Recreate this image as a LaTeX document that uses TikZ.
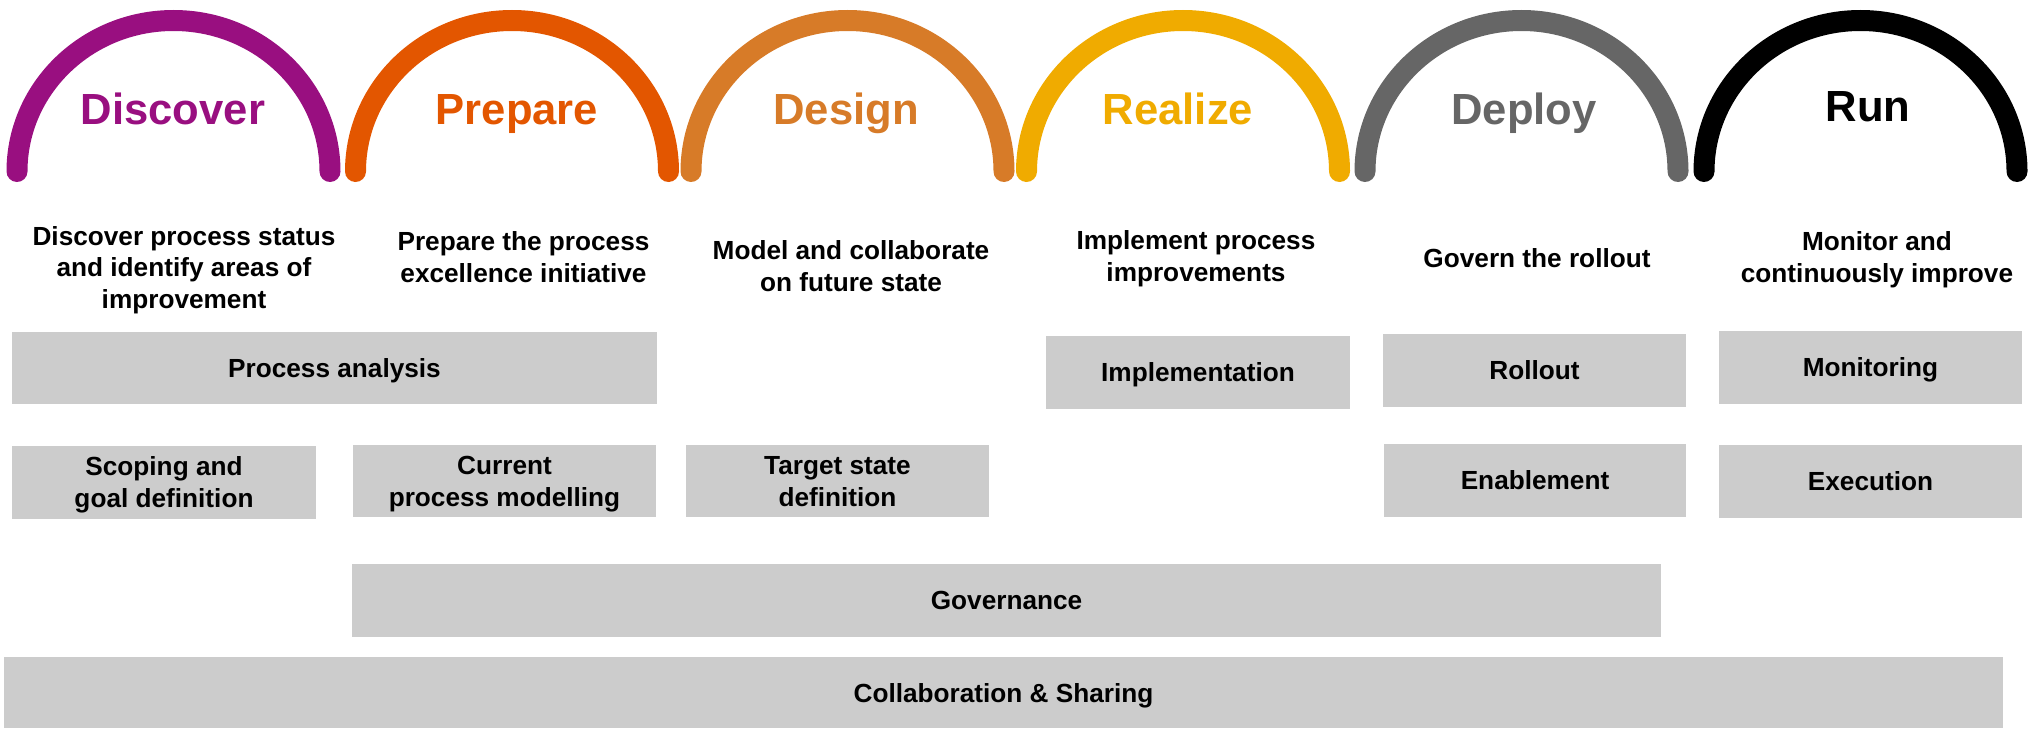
\documentclass[tikz,border=0pt]{standalone}
\usepackage{fontspec}
\setmainfont{Liberation Sans}
\definecolor{discoverc}{RGB}{153,15,128}
\definecolor{preparec}{RGB}{227,86,0}
\definecolor{designc}{RGB}{215,123,40}
\definecolor{realizec}{RGB}{240,171,0}
\definecolor{deployc}{RGB}{102,102,102}
\definecolor{runc}{RGB}{0,0,0}
\definecolor{boxgray}{RGB}{204,204,204}
\newcommand\phasearc[2]{\draw[arcline, #2] ({#1-156.5},171.5) arc[start angle=180, end angle=0, x radius=78.25pt, y radius=75.5pt];}
\newcommand\gbox[6]{\node[gbox, minimum width={(#4-#2)*0.5pt}, minimum height={(#5-#3)*0.5pt}] (#1) at ({(#2+#4)/2},{(#3+#5)/2}) {#6};}
\begin{document}
\begin{tikzpicture}[x=0.5pt,y=-0.5pt,
  arcline/.style={line width=10.5pt, line cap=round},
  title/.style={font=\fontsize{21.8}{26}\selectfont\bfseries, anchor=base, inner sep=0pt},
  desc/.style={font=\fontsize{13.1}{15.6}\selectfont\bfseries, align=center, anchor=base, inner sep=0pt},
  gbox/.style={fill=boxgray, draw=none, inner sep=0pt, outer sep=0pt, align=center, text depth=0pt, font=\fontsize{13.1}{16}\selectfont\bfseries}]
\useasboundingbox (0,0) rectangle (2028,728);
% arcs
\phasearc{173.5}{discoverc}
\phasearc{512}{preparec}
\phasearc{847.5}{designc}
\phasearc{1183}{realizec}
\phasearc{1521.5}{deployc}
\phasearc{1860.5}{runc}
% titles
\node[title, text=discoverc] (tdiscover) at (173,124) {Discover};
\node[title, text=preparec] (tprepare) at (517,124) {Prepare};
\node[title, text=designc] (tdesign) at (846,124) {Design};
\node[title, text=realizec] (trealize) at (1178,124) {Realize};
\node[title, text=deployc] (tdeploy) at (1524,124) {Deploy};
\node[title, text=runc] (trun) at (1868,121) {Run};
% descriptions (anchored at the baseline of their last line)
\node[desc] (ddiscover) at (184,308) {Discover process status\\and identify areas of\\improvement};
\node[desc] (dprepare) at (523.5,282) {Prepare the process\\excellence initiative};
\node[desc] (ddesign) at (851,291) {Model and collaborate\\on future state};
\node[desc] (drealize) at (1196,281) {Implement process\\improvements};
\node[desc] (ddeploy) at (1537,267) {Govern the rollout};
\node[desc] (drun) at (1877,282) {Monitor and\\continuously improve};
% boxes
\gbox{pa}{12}{332}{657}{404}{Process analysis}
\gbox{impl}{1046}{336}{1350}{409}{Implementation}
\gbox{roll}{1383}{334}{1686}{407}{Rollout}
\gbox{mon}{1719}{331}{2022}{404}{Monitoring}
\gbox{scope}{12}{446}{316}{519}{Scoping and\\goal definition}
\gbox{cur}{353}{445}{656}{517}{Current\\process modelling}
\gbox{target}{686}{445}{989}{517}{Target state\\definition}
\gbox{enable}{1384}{444}{1686}{517}{Enablement}
\gbox{exec}{1719}{445}{2022}{518}{Execution}
\gbox{gov}{352}{564}{1661}{637}{Governance}
\gbox{collab}{4}{657}{2003}{728}{Collaboration \& Sharing}
\end{tikzpicture}
\end{document}
